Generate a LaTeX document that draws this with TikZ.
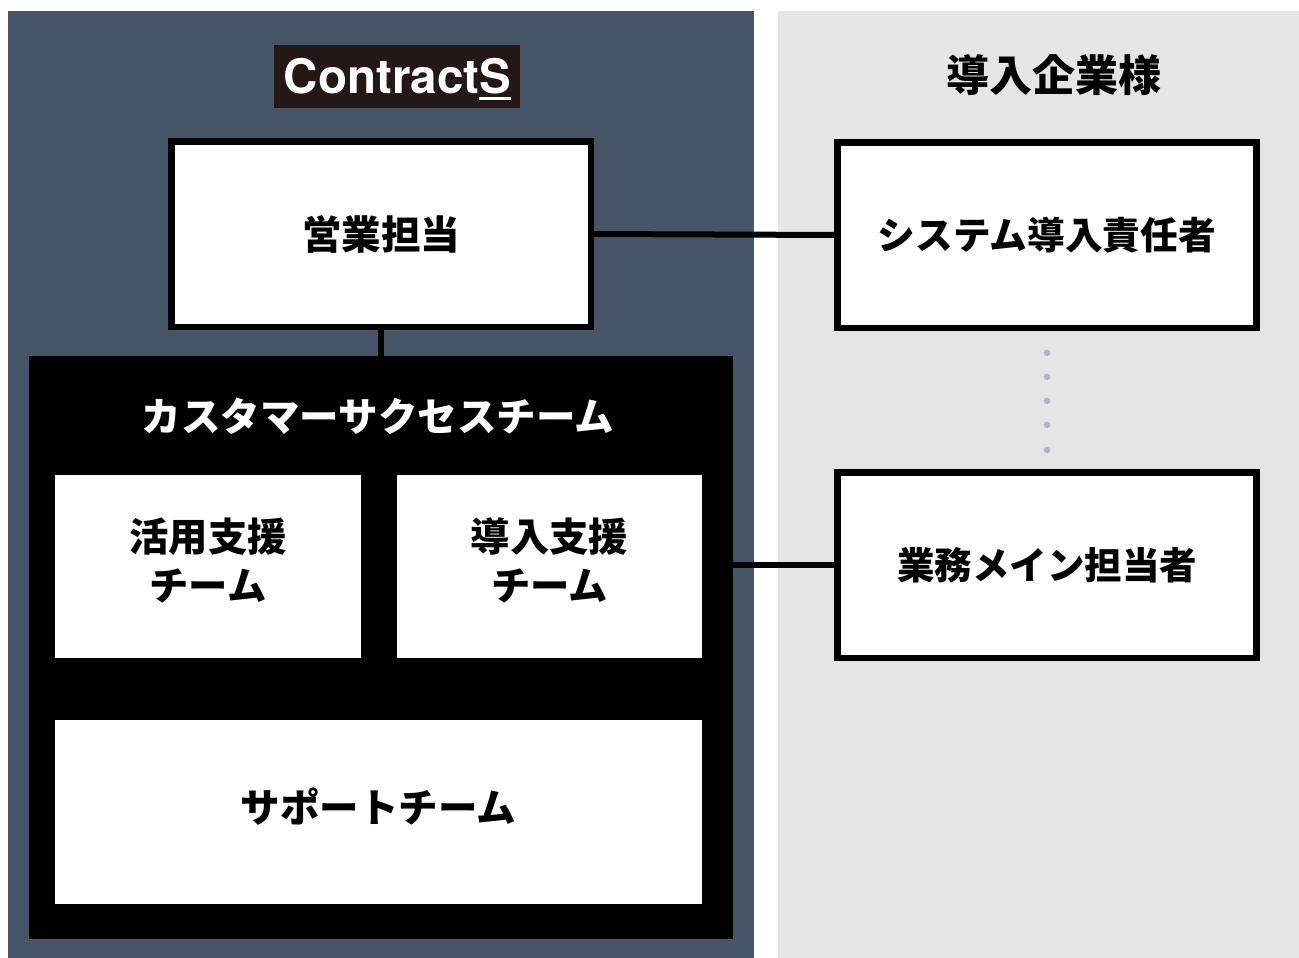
\documentclass[tikz,border=0pt]{standalone}
\usepackage{fontspec}
\setmainfont{Noto Sans CJK JP}[BoldFont={* Black}]
\newfontfamily\logofont{TeX Gyre Heros}[BoldFont={* Bold}]
\definecolor{navy}{HTML}{475569}
\definecolor{panelgray}{HTML}{E5E5E5}
\definecolor{dotc}{HTML}{B0B4CC}
\definecolor{logobg}{HTML}{231815}
\newcommand{\lbl}[2]{\fontsize{#1}{#1}\selectfont\bfseries #2}
\newcommand{\ulS}{\setbox0\hbox{S}\rlap{\raisebox{-7pt}{\rule{\wd0}{3pt}}}S}
\newcommand{\twolines}[2]{\raisebox{3pt}[0pt][0pt]{\begin{tabular}{@{}c@{}}\lbl{39.3}{#1}\\[14pt]\lbl{39.3}{#2}\end{tabular}}}
\tikzset{
  x=1pt,y=-1pt,
  panel/.style={draw=none,inner sep=0,outer sep=0},
  outlinebox/.style={draw=black,line width=6.5pt,fill=white,inner sep=0,outer sep=0,align=center},
  teambox/.style={fill=white,inner sep=0,outer sep=0,align=center},
  link/.style={draw=black,line width=6pt},
  dotmark/.style={circle,fill=dotc,inner sep=0,minimum size=6.5pt},
}
\begin{document}
\begin{tikzpicture}
\useasboundingbox (0,0) rectangle (1299,958);
\fill[white] (0,0) rectangle (1299,958);
\node[panel,fill=navy,anchor=north west,minimum width=746pt,minimum height=947pt] (left) at (8,11) {};
\node[panel,fill=panelgray,anchor=north west,minimum width=521pt,minimum height=947pt] (right) at (778,11) {};
\node[panel,fill=logobg,anchor=north west,minimum width=246pt,minimum height=63pt] (logo) at (274,45) {};
\node[text=white,inner sep=0,anchor=base] (logotext) at (397.5,93) {\logofont\fontsize{47.5}{47.5}\selectfont\bfseries Contract\ulS};
\node[inner sep=0] (client) at (1054,75) {\lbl{43}{導入企業様}};
\node[panel,fill=black,anchor=north west,minimum width=704pt,minimum height=583pt] (cs) at (29,356) {};
\node[outlinebox,minimum width=419.5pt,minimum height=185.5pt] (sales) at (381.3,234) {\lbl{39.5}{営業担当}};
\node[outlinebox,minimum width=419pt,minimum height=185.5pt] (sys) at (1047,235) {\lbl{37.7}{システム導入責任者}};
\node[outlinebox,minimum width=419pt,minimum height=185.5pt] (biz) at (1047,565) {\lbl{37.5}{業務メイン担当者}};
\node[text=white,inner sep=0] (cstitle) at (378,416) {\lbl{39.5}{カスタマーサクセスチーム}};
\node[teambox,anchor=north west,minimum width=306pt,minimum height=183pt] (use) at (55,475) {\twolines{活用支援}{チーム}};
\node[teambox,anchor=north west,minimum width=305pt,minimum height=183pt] (intro) at (397,475) {\twolines{導入支援}{チーム}};
\node[teambox,anchor=north west,minimum width=647pt,minimum height=184pt] (support) at (55,720) {\raisebox{-10pt}[0pt][0pt]{\lbl{39.5}{サポートチーム}}};
\draw[link] (sales.east) -- (sys.west);
\draw[link] (sales.south) -- (sales.south |- cs.north);
\draw[link] (cs.east |- biz.west) -- (biz.west);
\foreach \i/\y in {1/353,2/377,3/401,4/425,5/450}
  \node[dotmark] (d\i) at (1047,\y) {};
\end{tikzpicture}
\end{document}
